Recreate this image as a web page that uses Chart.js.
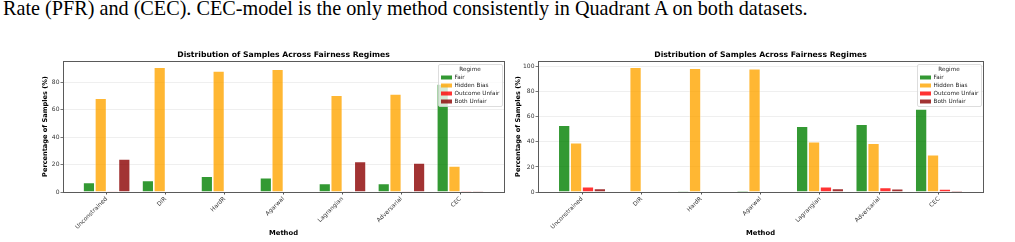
<!DOCTYPE html>
<html>
<head>
<meta charset="utf-8">
<script src="https://cdn.jsdelivr.net/npm/chart.js@4.4.0/dist/chart.umd.min.js"></script>
<style>
  html, body { margin: 0; padding: 0; background: #fff; width: 1015px; height: 242px; overflow: hidden; }
  #caption { position: absolute; left: 3px; top: -2px; font-family: "Liberation Serif", serif; font-size: 20.2px; line-height: 1; white-space: nowrap; color: #000; }
  .box { position: absolute; top: 0; height: 242px; }
</style>
</head>
<body>
<div id="caption">Rate (PFR) and (CEC). CEC-model is the only method consistently in Quadrant A on both datasets.</div>
<div class="box" style="left:0;width:507px"><canvas id="leftChart"></canvas></div>
<div class="box" style="left:507px;width:508px"><canvas id="rightChart"></canvas></div>
<script>
const methods = ['Unconstrained', 'DIR', 'HardR', 'Agarwal', 'Lagrangian', 'Adversarial', 'CEC'];
const regimes = ['Fair', 'Hidden Bias', 'Outcome Unfair', 'Both Unfair'];
const regimeColors = ['rgba(0,128,0,0.8)', 'rgba(255,165,0,0.8)', 'rgba(255,0,0,0.8)', 'rgba(139,0,0,0.8)'];

// first dataset (left panel)
const leftFair    = [7.0, 8.5, 11.6, 10.4, 6.3, 6.3, 78.8];
const leftHidden  = [68.4, 90.9, 88.2, 89.5, 70.5, 71.5, 18.9];
const leftOutcome = [0.2, 0, 0, 0, 0.2, 0.2, 0.9];
const leftBoth    = [24.0, 0, 0, 0, 22.3, 21.1, 0.9];
const leftTicks   = [0, 20, 40, 60, 80];

// second dataset (right panel)
const rightFair    = [53.4, 0.3, 1.0, 1.3, 52.6, 54.2, 66.4];
const rightHidden  = [39.3, 99.6, 98.8, 98.5, 40.1, 39.0, 29.7];
const rightOutcome = [4.2, 0, 0, 0, 4.2, 3.7, 2.4];
const rightBoth    = [2.9, 0, 0, 0, 2.9, 2.7, 1.3];
const rightTicks   = [0, 20, 40, 60, 80, 100];

const FONT = 'DejaVu Sans';

// frame around the plot area (matplotlib spines)
const framePlugin = {
  id: 'frame',
  afterDatasetsDraw(chart) {
    const { ctx, chartArea: ca } = chart;
    ctx.save();
    ctx.strokeStyle = '#5a5a5a';
    ctx.lineWidth = 1;
    ctx.strokeRect(Math.round(ca.left) + 0.5, Math.round(ca.top) + 0.5,
      Math.round(ca.right - ca.left), Math.round(ca.bottom - ca.top));
    ctx.restore();
  }
};

// legend box in the upper right corner
const legendPlugin = {
  id: 'regimeLegend',
  afterDraw(chart) {
    const { ctx, chartArea: ca } = chart;
    const w = 64, h = 42;
    const x = Math.round(ca.right) - 2 - w, y = Math.round(ca.top) + 3;
    ctx.save();
    ctx.fillStyle = 'rgba(255,255,255,0.8)';
    ctx.strokeStyle = '#d4d4d4';
    ctx.lineWidth = 0.8;
    ctx.beginPath();
    ctx.roundRect(x + 0.5, y + 0.5, w, h, 1.5);
    ctx.fill();
    ctx.stroke();
    ctx.font = '5.7px "' + FONT + '"';
    ctx.textBaseline = 'middle';
    ctx.textAlign = 'center';
    ctx.fillStyle = '#222';
    ctx.fillText('Regime', x + w / 2, y + 5.5);
    ctx.textAlign = 'left';
    chart.data.datasets.forEach((ds, i) => {
      const ry = y + 13.5 + i * 8;
      ctx.fillStyle = ds.backgroundColor;
      ctx.fillRect(x + 3, ry - 2, 11, 4);
      ctx.fillStyle = '#222';
      ctx.fillText(ds.label, x + 16.5, ry);
    });
    ctx.restore();
  }
};

function makeChart(id, series, yTicks, yAxisWidth, yTitlePad, padRight) {
  const yMax = Math.max(...series.flat()) * 1.05;
  const datasets = series.map((vals, i) => ({
    label: regimes[i],
    data: vals.map((v, j) => ({ x: j, y: v })),
    backgroundColor: regimeColors[i],
    borderColor: 'rgba(255,255,255,0.55)',
    borderWidth: 0.8,
    categoryPercentage: 0.8,
    barPercentage: 1.0
  }));
  return new Chart(document.getElementById(id), {
    type: 'bar',
    data: { datasets },
    options: {
      responsive: true,
      maintainAspectRatio: false,
      animation: false,
      layout: { padding: { left: 0, right: padRight, top: 0, bottom: 0 } },
      plugins: {
        legend: { display: false },
        tooltip: { enabled: false },
        title: {
          display: true,
          text: 'Distribution of Samples Across Fairness Regimes',
          fullSize: false,
          color: '#000',
          font: { family: FONT, size: 7.7, weight: 'bold' },
          padding: { top: 50.4, bottom: 1.4 }
        }
      },
      scales: {
        x: {
          type: 'linear',
          min: -0.74,
          max: 6.74,
          offset: false,
          afterBuildTicks: s => { s.ticks = methods.map((m, i) => ({ value: i })); },
          afterFit: s => { s.height = 50; },
          ticks: {
            callback: v => methods[v],
            minRotation: 45,
            maxRotation: 45,
            autoSkip: false,
            padding: 1,
            color: '#333',
            font: { family: FONT, size: 5.9 }
          },
          grid: { offset: false, drawOnChartArea: false, tickLength: 2.5, tickColor: '#555' },
          border: { display: false },
          title: {
            display: true,
            text: 'Method',
            color: '#000',
            font: { family: FONT, size: 6.8, weight: 'bold' },
            padding: { top: 0, bottom: 4.6 }
          }
        },
        y: {
          min: 0,
          max: yMax,
          afterBuildTicks: s => { s.ticks = yTicks.map(v => ({ value: v })); },
          afterFit: s => { s.width = yAxisWidth; },
          ticks: { padding: 1, color: '#333', font: { family: FONT, size: 6 } },
          grid: { color: '#ebebeb', lineWidth: 0.8, tickLength: 2.5, tickColor: '#555' },
          border: { display: false },
          title: {
            display: true,
            text: 'Percentage of Samples (%)',
            color: '#000',
            font: { family: FONT, size: 6.6, weight: 'bold' },
            padding: { top: yTitlePad, bottom: 0 }
          }
        }
      }
    },
    plugins: [framePlugin, legendPlugin]
  });
}

makeChart('leftChart', [leftFair, leftHidden, leftOutcome, leftBoth], leftTicks, 63, 41.0, 3);
makeChart('rightChart', [rightFair, rightHidden, rightOutcome, rightBoth], rightTicks, 31, 7.0, 32);
</script>
</body>
</html>
